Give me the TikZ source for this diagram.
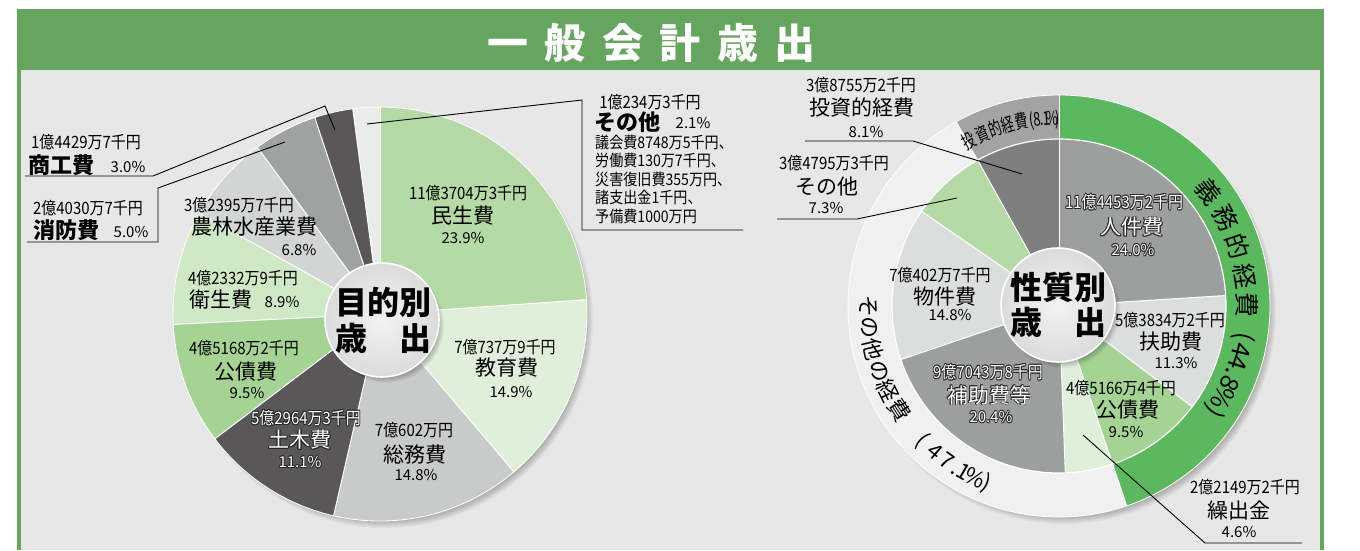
\documentclass[tikz,border=0pt]{standalone}
\usepackage{fontspec}
\setmainfont{Noto Sans CJK JP}
\newfontfamily\jpc{Noto Sans CJK JP}[FakeStretch=0.88]
\newfontfamily\jpt{Noto Sans CJK JP}[FakeStretch=0.68]
\usetikzlibrary{calc}
\definecolor{band}{HTML}{66A55F}
\definecolor{panel}{HTML}{E7E7E7}
\definecolor{cMin}{HTML}{B5DAA6}
\definecolor{cEdu}{HTML}{DFEFD9}
\definecolor{cSom}{HTML}{C9CACA}
\definecolor{cDob}{HTML}{595757}
\definecolor{cKos}{HTML}{A5D394}
\definecolor{cEis}{HTML}{CFE8C5}
\definecolor{cNor}{HTML}{D3D4D4}
\definecolor{cSho}{HTML}{A0A1A1}
\definecolor{cSk}{HTML}{595757}
\definecolor{cOth}{HTML}{EAEBEB}
\definecolor{rJin}{HTML}{9D9E9E}
\definecolor{rFu}{HTML}{DCDDDD}
\definecolor{rKo}{HTML}{A5D394}
\definecolor{rKu}{HTML}{E0EFDA}
\definecolor{rHo}{HTML}{9D9E9E}
\definecolor{rBu}{HTML}{DCDDDD}
\definecolor{rOt}{HTML}{B5DAA6}
\definecolor{rTo}{HTML}{7F7F7F}
\definecolor{colRingG}{HTML}{5CB85F}
\definecolor{colRingL}{HTML}{F0F0F0}
\definecolor{colRingT}{HTML}{A3A3A3}
\newcommand\olt[1]{\leavevmode
 \rlap{\color{black!85}\kern-0.8pt#1}\rlap{\color{black!85}\kern0.8pt#1}%
 \rlap{\color{black!85}\raisebox{0.8pt}{#1}}\rlap{\color{black!85}\raisebox{-0.8pt}{#1}}%
 \rlap{\color{black!85}\kern0.6pt\raisebox{0.6pt}{#1}}\rlap{\color{black!85}\kern-0.6pt\raisebox{-0.6pt}{#1}}%
 \rlap{\color{black!85}\kern0.6pt\raisebox{-0.6pt}{#1}}\rlap{\color{black!85}\kern-0.6pt\raisebox{0.6pt}{#1}}%
 {\color{white}#1}}
\tikzset{
 lab/.style={inner sep=0pt, anchor=center},
 amt/.style={lab, font=\jpc\fontsize{17}{17}\selectfont},
 nm/.style={lab, font=\fontsize{21}{21}\selectfont},
 nmb/.style={lab, font=\bfseries\fontsize{22}{22}\selectfont},
 pct/.style={lab, font=\fontsize{15}{15}\selectfont},
 det/.style={lab, anchor=west, font=\jpc\fontsize{16}{16}\selectfont},
 ctr/.style={lab, font=\bfseries\fontsize{32}{32}\selectfont},
 ttlstyle/.style={lab, text=white, font=\bfseries\fontsize{41}{41}\selectfont},
 ringRtxt/.style={inner sep=0pt, anchor=base, font=\fontsize{25}{25}\selectfont},
 ringLtxt/.style={inner sep=0pt, anchor=base, font=\fontsize{22}{22}\selectfont},
 ringTtxt/.style={inner sep=0pt, anchor=base, font=\jpt\fontsize{19}{19}\selectfont},
 lead/.style={draw=black, line width=0.9pt},
 sep/.style={draw=white, line width=1pt},
}
\begin{document}
\begin{tikzpicture}[x=1pt,y=1pt]
\useasboundingbox (0,0) rectangle (1360,-550);
\fill[white] (0,0) rectangle (1360,-550);
\fill[band] (17,-9) rectangle (1324,-550);
\fill[panel] (21,-70) rectangle (1320,-550);
\node[ttlstyle] (ttl) at (651.5,-43) {一\hspace{16.4pt}般\hspace{16.4pt}会\hspace{16.4pt}計\hspace{16.4pt}歳\hspace{16.4pt}出};

% ---------- left pie ----------
\foreach \i in {0,...,9} \fill[black, opacity=0.03] (385,-320) circle[radius=199+\i];
\begin{scope}[shift={(380,-314)}]
 \foreach \a/\b/\c in {90/3.96/cMin, 3.96/-49.68/cEdu, -49.68/-102.96/cSom, -102.96/-142.92/cDob, -142.92/-177.12/cKos, -177.12/-209.16/cEis, -209.16/-233.64/cNor, -233.64/-251.64/cSho, -251.64/-262.44/cSk, -262.44/-270/cOth}
  \fill[\c] (0,0) -- (\a:207) arc[start angle=\a, end angle=\b, radius=207] -- cycle;
 \foreach \a in {90,3.96,-49.68,-102.96,-142.92,-177.12,-209.16,-233.64,-251.64,-262.44}
  \draw[sep] (0,0) -- (\a:207);
 \draw[white, line width=0.8pt] (0,0) circle[radius=207];
\end{scope}
\foreach \i in {0,...,6} \fill[black, opacity=0.04] (386,-325) circle[radius=52+\i];
\shade[inner color=black!5, outer color=black!14] (382,-320) circle[radius=57];
\draw[white, line width=1.6pt] (382,-320) circle[radius=57];
\node[ctr] (lc1) at (383,-302) {目的別};
\node[ctr] (lc2) at (383,-338) {歳\hspace{1em}出};

% left labels
\node[amt] (mA) at (468,-193) {11億3704万3千円};
\node[nm] (mN) at (463,-216) {民生費};
\node[pct] (mP) at (463,-238) {23.9\%};
\node[amt] (eA) at (505,-347) {7億737万9千円};
\node[nm] (eN) at (507,-368) {教育費};
\node[pct] (eP) at (511,-392) {14.9\%};
\node[amt] (gA) at (414,-430) {7億602万円};
\node[nm] (gN) at (415,-455) {総務費};
\node[pct] (gP) at (416,-475) {14.8\%};
\node[amt] (dA) at (306,-418) {\olt{5億2964万3千円}};
\node[nm] (dN) at (300,-440) {\olt{土木費}};
\node[pct] (dP) at (300,-462) {\olt{11.1\%}};
\node[amt] (kA) at (244,-348) {4億5168万2千円};
\node[nm] (kN) at (246,-372) {公債費};
\node[pct] (kP) at (247,-393) {9.5\%};
\node[amt] (hA) at (243,-278) {4億2332万9千円};
\node[nm] (hN) at (221,-300) {衛生費};
\node[pct] (hP) at (282,-302) {8.9\%};
\node[amt] (nA) at (239,-205) {3億2395万7千円};
\node[nm] (nN) at (254,-227) {農林水産業費};
\node[pct] (nP) at (299,-250) {6.8\%};
\node[amt] (sA) at (86,-142) {1億4429万7千円};
\node[nmb] (sN) at (61,-165) {商工費};
\node[pct] (sP) at (128,-167) {3.0\%};
\node[amt] (fA) at (88,-208) {2億4030万7千円};
\node[nmb] (fN) at (66,-230) {消防費};
\node[pct] (fP) at (131,-232) {5.0\%};
\node[amt] (oA) at (650,-102) {1億234万3千円};
\node[nmb] (oN) at (627,-122) {その他};
\node[pct] (oP) at (693,-123) {2.1\%};
\node[det] (o1) at (595,-142) {議会費8748万5千円、};
\node[det] (o2) at (595,-160) {労働費130万7千円、};
\node[det] (o3) at (595,-179) {災害復旧費355万円、};
\node[det] (o4) at (595,-197) {諸支出金1千円、};
\node[det] (o5) at (595,-216) {予備費1000万円};

% left leaders
\coordinate (s1) at (25,-176); \coordinate (s2) at (153,-176);
\coordinate (s3) at (325,-106); \coordinate (s4) at (335,-130);
\draw[lead] (s1) -- (s2) -- (s3) -- (s4);
\coordinate (f1) at (27,-242); \coordinate (f2) at (158,-242);
\coordinate (f3) at (158,-188); \coordinate (f4) at (285,-142);
\draw[lead] (f1) -- (f2) -- (f3) -- (f4);
\coordinate (q1) at (367,-124); \coordinate (q2) at (582,-100);
\coordinate (q3) at (582,-230); \coordinate (q4) at (743,-230);
\draw[lead] (q1) -- (q2) -- (q3) -- (q4);

% ---------- right donut ----------
\foreach \i in {0,...,9} \fill[black, opacity=0.03] (1064,-312) circle[radius=203+\i];
\begin{scope}[shift={(1059,-306)}]
 \foreach \a/\b/\c in {90/-71.28/colRingG, -71.28/-240.84/colRingL, -240.84/-270/colRingT}
  \fill[\c] (\a:211) arc[start angle=\a, end angle=\b, radius=211] -- (\b:167) arc[start angle=\b, end angle=\a, radius=167] -- cycle;
 \foreach \a/\b/\c in {90/3.6/rJin, 3.6/-37.08/rFu, -37.08/-71.28/rKo, -71.28/-87.84/rKu, -87.84/-161.28/rHo, -161.28/-214.56/rBu, -214.56/-240.84/rOt, -240.84/-270/rTo}
  \fill[\c] (0,0) -- (\a:167) arc[start angle=\a, end angle=\b, radius=167] -- cycle;
 \foreach \a in {90,3.6,-37.08,-71.28,-87.84,-161.28,-214.56,-240.84}
  \draw[sep] (0,0) -- (\a:167);
 \foreach \a in {90,-71.28,-240.84}
  \draw[sep] (\a:167) -- (\a:211);
 \draw[white, line width=1.2pt] (0,0) circle[radius=167];
 \draw[white, line width=0.8pt] (0,0) circle[radius=211];
\end{scope}
\foreach \i in {0,...,6} \fill[black, opacity=0.04] (1062,-310) circle[radius=52+\i];
\shade[inner color=black!5, outer color=black!14] (1058,-305) circle[radius=57];
\draw[white, line width=1.6pt] (1058,-305) circle[radius=57];
\node[ctr] (rc1) at (1058,-287) {性質別};
\node[ctr] (rc2) at (1058,-322) {歳\hspace{1em}出};

% ring texts (baseline placed along the arc)
\coordinate (C) at (1059,-306);
\foreach \ch/\ang [count=\k] in {義/37.4,務/27.8,的/18.4,経/9.2,費/0.3}
 \node[ringRtxt, rotate=\ang-90] (gr\k) at ($(C)+(\ang:179)$) {\ch};
\foreach \ch/\ang [count=\k] in {{(}/-9.5,4/-13.6,4/-17.5,./-20.8,8/-24.4,\%/-29.4,{)}/-34.2}
 \node[ringRtxt, rotate=\ang-90] (gp\k) at ($(C)+(\ang:179)$) {\ch};
\foreach \ch/\ang [count=\k] in {そ/180,の/186.6,他/193.2,の/199.8,経/206.4,費/213.2,{(}/224.5,4/229.5,7/234.0,./237.4,1/240.0,\%/243.8,{)}/247.8}
 \node[ringLtxt, rotate=\ang+90] (lr\k) at ($(C)+(\ang:199)$) {\ch};
\foreach \ch/\ang [count=\k] in {投/118.7,資/113.9,的/109.7,経/105.7,費/101.5,{(}/98.4,8/96.6,./95.2,1/93.9,\%/92.1,{)}/90.5}
 \node[ringTtxt, rotate=\ang-90] (tr\k) at ($(C)+(\ang:181)$) {\ch};

% right labels
\node[amt] (tA) at (861,-85) {3億8755万2千円};
\node[nm] (tN) at (862,-108) {投資的経費};
\node[pct] (tP) at (866,-132) {8.1\%};
\node[amt] (rA) at (834,-163) {3億4795万3千円};
\node[nm] (rN) at (827,-187) {その他};
\node[pct] (rP) at (826,-208) {7.3\%};
\node[amt] (jA) at (1124,-202) {\olt{11億4453万2千円}};
\node[nm] (jN) at (1132,-227) {\olt{人件費}};
\node[pct] (jP) at (1133,-250) {\olt{24.0\%}};
\node[amt] (uA) at (1170,-320) {5億3834万2千円};
\node[nm] (uN) at (1171,-342) {扶助費};
\node[pct] (uP) at (1176,-363) {11.3\%};
\node[amt] (bkA) at (1121,-388) {4億5166万4千円};
\node[nm] (bkN) at (1128,-410) {公債費};
\node[pct] (bkP) at (1126,-432) {9.5\%};
\node[amt] (kuA) at (1245,-487) {2億2149万2千円};
\node[nm] (kuN) at (1239,-510) {繰出金};
\node[pct] (kuP) at (1239,-532) {4.6\%};
\node[amt] (buA) at (940,-275) {7億402万7千円};
\node[nm] (buN) at (945,-297) {物件費};
\node[pct] (buP) at (950,-315) {14.8\%};
\node[amt] (hoA) at (988,-372) {\olt{9億7043万8千円}};
\node[nm] (hoN) at (989,-395) {\olt{補助費等}};
\node[pct] (hoP) at (991,-417) {\olt{20.4\%}};

% right leaders
\coordinate (t1) at (805,-141); \coordinate (t2) at (913,-141); \coordinate (t3) at (1022,-174);
\draw[lead] (t1) -- (t2) -- (t3);
\coordinate (r1) at (777,-219); \coordinate (r2) at (857,-219); \coordinate (r3) at (957,-198);
\draw[lead] (r1) -- (r2) -- (r3);
\coordinate (k1) at (1302,-543); \coordinate (k2) at (1205,-543); \coordinate (k3) at (1083,-435);
\draw[lead] (k1) -- (k2) -- (k3);
\end{tikzpicture}
\end{document}
